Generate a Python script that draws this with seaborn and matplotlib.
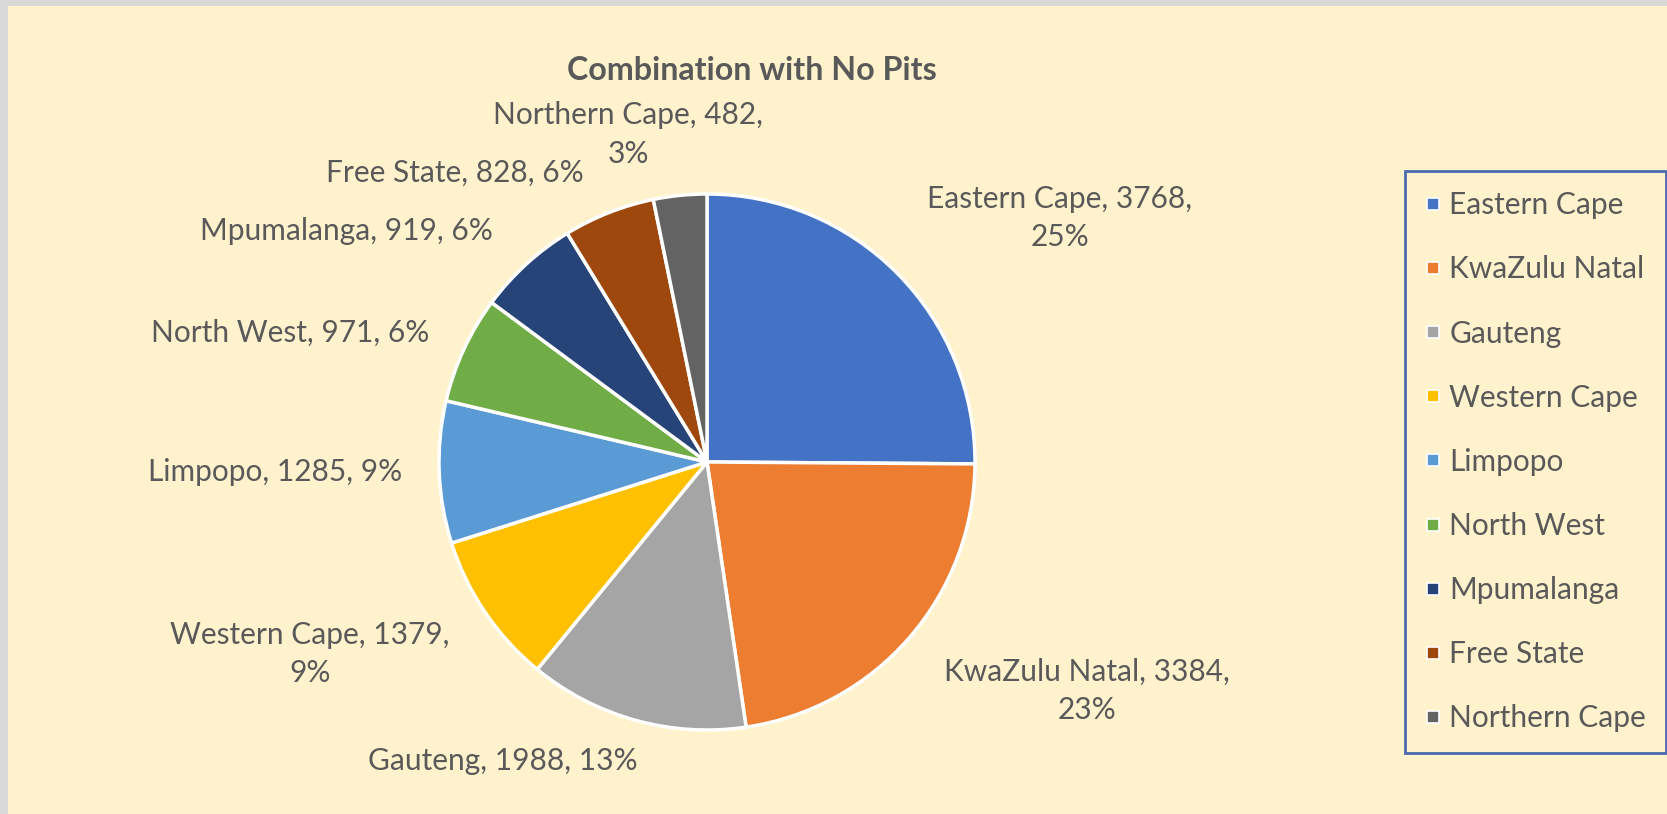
import matplotlib.pyplot as plt
from matplotlib.lines import Line2D
from matplotlib.patches import Rectangle
import seaborn as sns

provinces = ['Eastern Cape', 'KwaZulu Natal', 'Gauteng', 'Western Cape', 'Limpopo',
             'North West', 'Mpumalanga', 'Free State', 'Northern Cape']
counts = [3768, 3384, 1988, 1379, 1285, 971, 919, 828, 482]
# labels that Excel broke over two lines
wrapped = [True, True, False, True, False, False, False, False, True]

colors = sns.color_palette(['#4472C4', '#ED7D31', '#A5A5A5', '#FFC000', '#5B9BD5',
                            '#70AD47', '#264478', '#9E480E', '#636363'])

# label centres in pie-radius units (excel "best fit" placement)
label_pos = [(1.317, 0.910), (1.418, -0.854), (-0.761, -1.116), (-1.481, -0.716),
             (-1.612, -0.037), (-1.556, 0.481), (-1.347, 0.862), (-0.940, 1.078),
             (-0.295, 1.222)]
line_step = 0.142  # gap between the two lines of a wrapped label

sns.set_theme(style='white')
plt.rcParams['font.family'] = ['Lato', 'DejaVu Sans']
text_col = '#595959'
bg = '#FFF2CC'

W, H = 1667, 814
cx, cy, r = 707, 462, 268

fig = plt.figure(figsize=(W / 100, H / 100), dpi=100)
fig.patch.set_facecolor('#D9D9D9')
fig.add_artist(Rectangle((8 / W, 0), 1, 1 - 6 / H, transform=fig.transFigure,
                         facecolor=bg, edgecolor='none', zorder=0))

ax = fig.add_axes([0, 0, 1, 1])
ax.set_facecolor('none')
ax.pie(counts, colors=colors, startangle=90, counterclock=False, radius=1,
       wedgeprops=dict(edgecolor='white', linewidth=2.5))
ax.set_xlim(-cx / r, (W - cx) / r)
ax.set_ylim(-(H - cy) / r, cy / r)
ax.set_aspect('equal')
ax.axis('off')

total = sum(counts)
for name, val, wrap, (lx, ly) in zip(provinces, counts, wrapped, label_pos):
    pct = f'{round(val / total * 100)}%'
    if wrap:
        lines = [f'{name}, {val},', pct]
        ys = [ly + line_step / 2, ly - line_step / 2]
    else:
        lines = [f'{name}, {val}, {pct}']
        ys = [ly]
    for line, y in zip(lines, ys):
        ax.text(lx, y, line, ha='center', va='center', fontsize=21.5, color=text_col)

fig.text(752 / W, 1 - 71 / H, 'Combination with No Pits', ha='center', va='center',
         fontsize=23.2, fontweight='bold', color=text_col)

handles = [Line2D([0], [0], marker='s', linestyle='none', markersize=9,
                  markerfacecolor=c, markeredgecolor='white', markeredgewidth=1.2)
           for c in colors]
leg = fig.legend(handles, provinces, loc='upper left', bbox_to_anchor=(1405 / W, 1 - 171 / H),
                 borderaxespad=0, frameon=True, fancybox=False, framealpha=1, facecolor=bg,
                 edgecolor='#4A6BAF', fontsize=21.5, labelcolor=text_col, labelspacing=1.21,
                 borderpad=0.68, handlelength=0.5, handletextpad=0.3)
leg.get_frame().set_linewidth(2)

fig.savefig('out.png', dpi=100, facecolor=fig.get_facecolor())
